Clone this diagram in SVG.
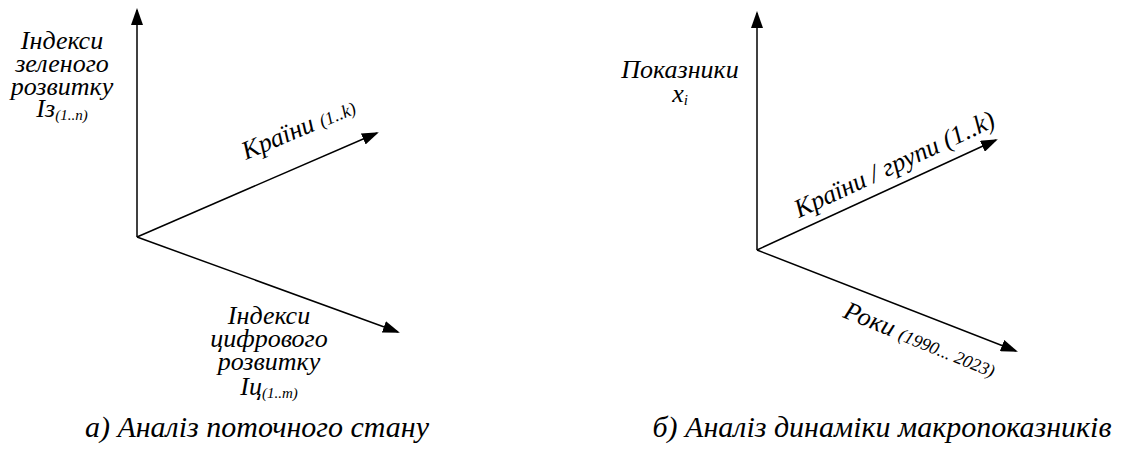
<svg xmlns="http://www.w3.org/2000/svg" width="1136" height="450" viewBox="0 0 1136 450" font-family="serif" font-style="italic">
<defs>
  <marker id="ah" viewBox="0 0 17 12" refX="15" refY="6" markerWidth="17" markerHeight="12" markerUnits="userSpaceOnUse" orient="auto">
    <path d="M0,0 L17,6 L0,12 Z" fill="#000"/>
  </marker>
</defs>
<g id="connectors" stroke="#000" stroke-width="1.5" fill="none">
  <line marker-end="url(#ah)" x1="137" y1="237" x2="137" y2="10"/>
  <line marker-end="url(#ah)" x1="137" y1="237" x2="377" y2="133"/>
  <line marker-end="url(#ah)" x1="137" y1="237" x2="398" y2="332"/>
  <line marker-end="url(#ah)" x1="757" y1="250" x2="757" y2="13"/>
  <line marker-end="url(#ah)" x1="757" y1="250" x2="996" y2="140"/>
  <line marker-end="url(#ah)" x1="757" y1="250" x2="1016" y2="351"/>
</g>
<g id="label-green">
  <text font-family="serif" font-style="italic" font-size="26" text-anchor="middle"><tspan x="62" y="49">Індекси</tspan><tspan x="62" y="72">зеленого</tspan><tspan x="62" y="95">розвитку</tspan><tspan x="62" y="117">Із<tspan font-size="15" dy="3">(1..n)</tspan></tspan></text>
</g>
<g id="label-countries-a">
  <text font-family="serif" font-style="italic" font-size="26" transform="translate(246,160) rotate(-23)">Країни <tspan font-size="18">(1..k)</tspan></text>
</g>
<g id="label-digital">
  <text font-family="serif" font-style="italic" font-size="26" text-anchor="middle"><tspan x="269" y="324">Індекси</tspan><tspan x="269" y="347">цифрового</tspan><tspan x="269" y="370">розвитку</tspan><tspan x="269" y="395">Іц<tspan font-size="15" dy="3">(1..m)</tspan></tspan></text>
</g>
<g id="caption-a">
  <text font-family="serif" font-style="italic" font-size="30" x="257" y="437" text-anchor="middle">а) Аналіз поточного стану</text>
</g>
<g id="label-indicators">
  <text font-family="serif" font-style="italic" font-size="26" text-anchor="middle"><tspan x="680" y="78">Показники</tspan><tspan x="680" y="102">x<tspan font-size="15" dy="3">i</tspan></tspan></text>
</g>
<g id="label-countries-b">
  <text font-family="serif" font-style="italic" font-size="26" transform="translate(799,218) rotate(-25)">Країни / групи (1..k)</text>
</g>
<g id="label-years">
  <text font-family="serif" font-style="italic" font-size="26" transform="translate(842,317) rotate(22)">Роки <tspan font-size="18">(1990... 2023)</tspan></text>
</g>
<g id="caption-b">
  <text font-family="serif" font-style="italic" font-size="30" x="882" y="437" text-anchor="middle">б) Аналіз динаміки макропоказників</text>
</g>
</svg>
